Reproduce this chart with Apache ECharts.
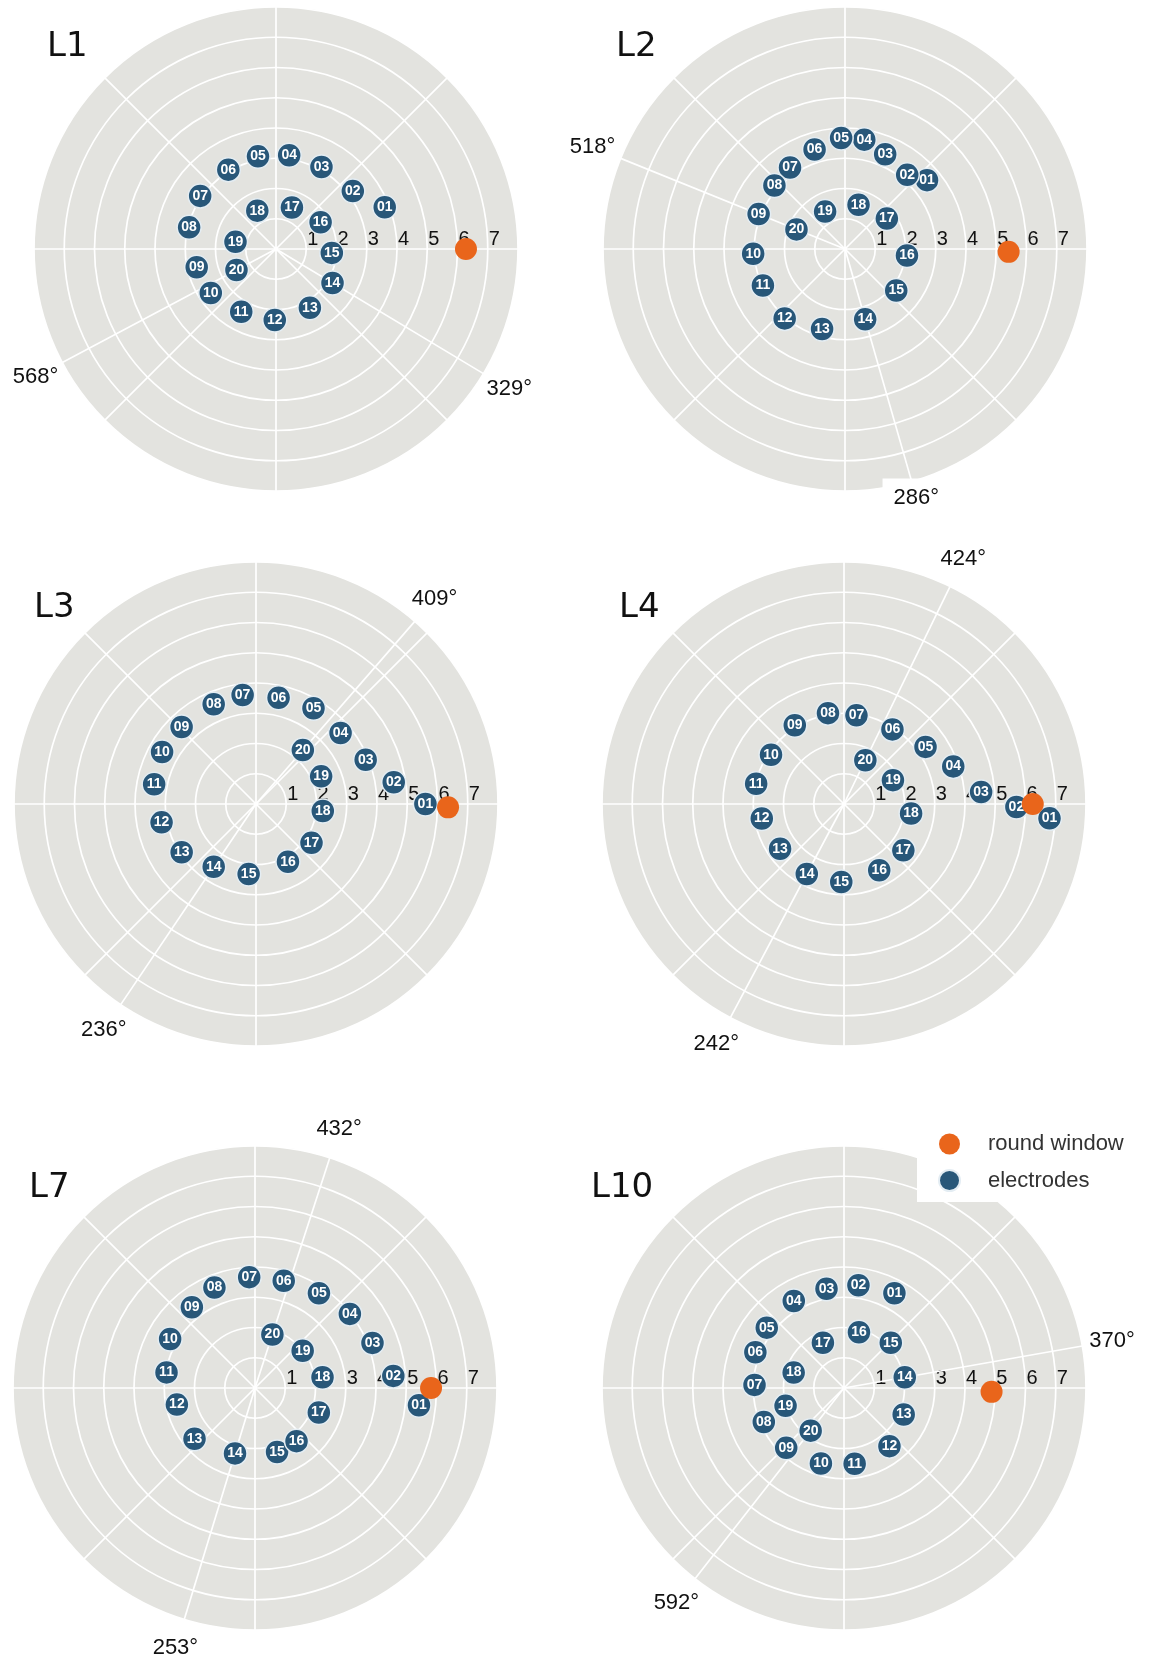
<!DOCTYPE html>
<html>
<head>
<meta charset="utf-8">
<script src="https://cdn.jsdelivr.net/npm/echarts@6/dist/echarts.min.js"></script>
<style>
  html, body { margin: 0; padding: 0; background: #fff; }
  #chart { width: 1150px; height: 1660px; }
</style>
</head>
<body>
<div id="chart"></div>
<script>
// electrode numbers, base (01) to apex (20)
const electrodeIds = ['01', '02', '03', '04', '05', '06', '07', '08', '09', '10',
                      '11', '12', '13', '14', '15', '16', '17', '18', '19', '20'];

// cumulative insertion angle (deg) and radial distance of each electrode
const l1Angle  = [21, 37, 61, 82, 101, 121, 145, 166, 193, 214, 241, 269, 300, 329, 356, 391, 429, 476, 530, 568];
const l1Radius = [3.85, 3.18, 3.1, 3.13, 3.12, 3.06, 3.06, 2.96, 2.69, 2.6, 2.37, 2.35, 2.24, 2.18, 1.85, 1.72, 1.47, 1.41, 1.36, 1.48];

const l2Angle  = [40, 50, 67, 80, 92, 107, 124, 138, 158, 183, 204, 229, 254, 286, 321, 354, 396, 433, 478, 518];
const l2Radius = [3.54, 3.2, 3.4, 3.67, 3.67, 3.44, 3.25, 3.14, 3.08, 3.04, 2.97, 3.04, 2.75, 2.42, 2.18, 2.06, 1.71, 1.53, 1.4, 1.73];

const l3Angle  = [0, 9, 22, 40, 59, 78, 97, 113, 134, 151, 169, 191, 213, 236, 264, 299, 325, 354, 383, 409];
const l3Radius = [5.6, 4.61, 3.91, 3.65, 3.69, 3.59, 3.63, 3.58, 3.54, 3.55, 3.43, 3.18, 2.93, 2.5, 2.33, 2.18, 2.24, 2.22, 2.34, 2.36];

const l4Angle  = [-4, -1, 5, 19, 35, 57, 82, 100, 122, 146, 167, 190, 215, 242, 268, 298, 322, 352, 386, 424];
const l4Radius = [6.81, 5.7, 4.55, 3.82, 3.29, 2.94, 2.96, 3.05, 3.07, 2.91, 2.98, 2.76, 2.58, 2.62, 2.58, 2.48, 2.49, 2.24, 1.8, 1.61];

const l7Angle  = [-6, 5, 21, 38, 56, 75, 93, 112, 128, 150, 170, 192, 220, 253, 289, 308, 339, 369, 398, 432];
const l7Radius = [5.45, 4.59, 4.16, 3.98, 3.78, 3.67, 3.67, 3.58, 3.39, 3.24, 2.97, 2.64, 2.61, 2.26, 2.24, 2.23, 2.26, 2.26, 2.0, 1.86];

const l10Angle  = [62, 82, 100, 120, 142, 158, 178, 203, 226, 253, 278, 308, 336, 370, 404, 435, 475, 523, 557, 592];
const l10Radius = [3.55, 3.43, 3.33, 3.32, 3.24, 3.16, 2.96, 2.88, 2.75, 2.61, 2.53, 2.44, 2.16, 2.04, 2.15, 1.91, 1.65, 1.74, 2.02, 1.79];

// round window position per implant
const roundWindowRadius = [6.28, 5.41, 6.35, 6.24, 5.82, 4.88];
const roundWindowAngle  = [0, -1, -1, 0, 0, -1.5];

// angles marked with a ray: electrode 14 and electrode 20
const l1Marks  = [329, 568];
const l2Marks  = [286, 518];
const l3Marks  = [236, 409];
const l4Marks  = [242, 424];
const l7Marks  = [253, 432];
const l10Marks = [370, 592];

const radiusTicks = [1, 2, 3, 4, 5, 6, 7];
const panelNames = ['L1', 'L2', 'L3', 'L4', 'L7', 'L10'];

const angles = [l1Angle, l2Angle, l3Angle, l4Angle, l7Angle, l10Angle];
const radii = [l1Radius, l2Radius, l3Radius, l4Radius, l7Radius, l10Radius];
const marks = [l1Marks, l2Marks, l3Marks, l4Marks, l7Marks, l10Marks];

// where each polar plot sits on the page
const layout = [
    { cx: 276, cy: 249, tx: 47,  ty: 50 },
    { cx: 845, cy: 249, tx: 616, ty: 50 },
    { cx: 256, cy: 804, tx: 34,  ty: 611 },
    { cx: 844, cy: 804, tx: 619, ty: 611 },
    { cx: 255, cy: 1388, tx: 29, ty: 1191 },
    { cx: 844, cy: 1388, tx: 591, ty: 1191 }
];
const R = 242;
const R_MAX = 8;

const BLUE = '#285779';
const ORANGE = '#e9651b';
const DISC = '#e3e3df';
const FONT = 'Liberation Sans, Arial, sans-serif';

const wrap = a => ((a % 360) + 360) % 360;

const polar = [], angleAxis = [], radiusAxis = [], series = [], graphic = [];

panelNames.forEach((name, i) => {
    const lay = layout[i];
    polar.push({ center: [lay.cx, lay.cy], radius: R });
    angleAxis.push({
        polarIndex: i,
        type: 'value', min: 0, max: 360, interval: 45,
        startAngle: 0, clockwise: false,
        axisLine: { show: false },
        axisTick: { show: false },
        axisLabel: { show: false },
        splitLine: { show: true, lineStyle: { color: '#fff', width: 1.7 } },
        z: 1
    });
    radiusAxis.push({
        polarIndex: i,
        type: 'value', min: 0, max: R_MAX, interval: 1,
        axisLine: { show: false },
        axisTick: { show: false },
        axisLabel: {
            show: true,
            formatter: v => (radiusTicks.indexOf(v) >= 0 ? String(v) : ''),
            fontSize: 20, color: '#111', fontFamily: FONT,
            margin: 0, padding: [0, 0, 0, 13]
        },
        splitLine: { show: true, lineStyle: { color: '#fff', width: 1.7 } },
        z: 1
    });

    // grey disc behind the grid
    series.push({
        type: 'pie', center: [lay.cx, lay.cy], radius: R,
        silent: true, z: -1, label: { show: false }, labelLine: { show: false },
        itemStyle: { color: DISC }, data: [{ value: 1, name: '' }]
    });

    // rays to electrode 14 and 20
    marks[i].forEach(a => {
        series.push({
            type: 'line', coordinateSystem: 'polar', polarIndex: i,
            data: [[0, wrap(a)], [R_MAX, wrap(a)]],
            symbol: 'none', silent: true, z: 2,
            lineStyle: { color: '#fff', width: 1.7 }
        });
    });
    series.push({
        type: 'scatter', coordinateSystem: 'polar', polarIndex: i,
        clip: false, silent: true, z: 5,
        symbolSize: 1, itemStyle: { color: 'rgba(0,0,0,0)', opacity: 1 },
        label: {
            show: true, position: 'inside', formatter: '{b}',
            fontSize: 22, color: '#111', fontFamily: FONT
        },
        data: marks[i].map(a => {
            const boxed = (i === 1 && a === 286);
            return {
                value: [boxed ? 8.55 : 9, wrap(a)],
                name: a + '°',
                label: boxed ? { backgroundColor: '#fff', padding: [8, 11, 8, 11] } : undefined
            };
        })
    });

    series.push({
        type: 'scatter', name: 'electrodes', coordinateSystem: 'polar', polarIndex: i,
        clip: false, silent: true, z: 3,
        symbolSize: 24,
        itemStyle: { color: BLUE, opacity: 1, borderColor: '#e4edf3', borderWidth: 1.5 },
        label: {
            show: true, position: 'inside', formatter: '{b}',
            color: '#fff', fontWeight: 'bold', fontSize: 14,
            fontFamily: FONT
        },
        data: electrodeIds.map((id, k) => ({ value: [radii[i][k], wrap(angles[i][k])], name: id }))
    });
    series.push({
        type: 'scatter', name: 'round window', coordinateSystem: 'polar', polarIndex: i,
        clip: false, silent: true, z: 4,
        symbolSize: 22,
        itemStyle: { color: ORANGE, opacity: 1 },
        data: [[roundWindowRadius[i], wrap(roundWindowAngle[i])]]
    });

    graphic.push({
        type: 'text', left: lay.tx, top: lay.ty - 20,
        style: { text: name, fontSize: 34, fill: '#111', fontFamily: 'DejaVu Sans, sans-serif' }
    });
});

const chart = echarts.init(document.getElementById('chart'));
chart.setOption({
    backgroundColor: '#fff',
    animation: false,
    polar: polar,
    angleAxis: angleAxis,
    radiusAxis: radiusAxis,
    legend: {
        data: ['round window', 'electrodes'],
        orient: 'vertical', left: 917, top: 1113,
        padding: [20, 60, 10, 21], itemGap: 14,
        itemWidth: 21, itemHeight: 21, icon: 'circle',
        backgroundColor: '#fff', selectedMode: false,
        textStyle: { fontSize: 22, color: '#333', fontFamily: FONT, padding: [0, 0, 0, 23] },
        z: 10
    },
    graphic: graphic,
    series: series
});
</script>
</body>
</html>
